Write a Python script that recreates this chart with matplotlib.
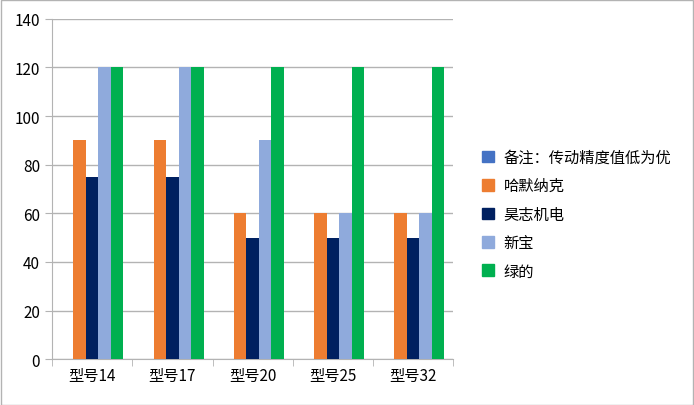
import numpy as np
import matplotlib.pyplot as plt
from matplotlib.patches import Rectangle

plt.rcParams['font.family'] = ['Noto Sans CJK SC', 'DejaVu Sans']

categories = ["型号14", "型号17", "型号20", "型号25", "型号32"]
series_names = ["备注：传动精度值低为优", "哈默纳克", "昊志机电", "新宝", "绿的"]
series_values = [
    [0, 0, 0, 0, 0],
    [90, 90, 60, 60, 60],
    [75, 75, 50, 50, 50],
    [120, 120, 90, 60, 60],
    [120, 120, 120, 120, 120],
]
colors = ["#4472C4", "#ED7D31", "#002060", "#8FAADC", "#00B050"]

fig = plt.figure(figsize=(6.94, 4.06), dpi=100)
ax = fig.add_axes([0.075, 0.113, 0.578, 0.838])

x = np.arange(len(categories))
w = 0.156
for i, (name, vals, c) in enumerate(zip(series_names, series_values, colors)):
    ax.bar(x + (i - 2) * w, vals, w, color=c, label=name, zorder=3)

ax.set_xlim(-0.5, len(categories) - 0.5)
ax.set_ylim(0, 140)
ax.set_yticks(range(0, 141, 20))
ax.set_xticks(x)
ax.set_xticklabels(categories, fontsize=11)
ax.set_xticks(np.arange(-0.5, len(categories), 1), minor=True)
ax.tick_params(axis='x', which='major', length=0, pad=6)
ax.tick_params(axis='x', which='minor', length=5, color='#b3b3b3')
ax.tick_params(axis='y', length=5, color='#b3b3b3', labelsize=11)
ax.yaxis.grid(True, color='#b3b3b3', linewidth=1, zorder=0)
for s in ['top', 'right']:
    ax.spines[s].set_visible(False)
for s in ['left', 'bottom']:
    ax.spines[s].set_color('#b3b3b3')

handles = [Rectangle((0, 0), 1, 1, color=c) for c in colors]
fig.legend(handles, series_names, loc='center left', bbox_to_anchor=(0.675, 0.47),
           frameon=False, fontsize=11, handlelength=0.8, handleheight=0.8,
           labelspacing=0.75, handletextpad=0.6)

fig.patches.append(Rectangle((0.001, 0.001), 0.997, 0.997, transform=fig.transFigure,
                             fill=False, edgecolor='#b3b3b3', linewidth=1))
fig.savefig("out.png", dpi=100)
